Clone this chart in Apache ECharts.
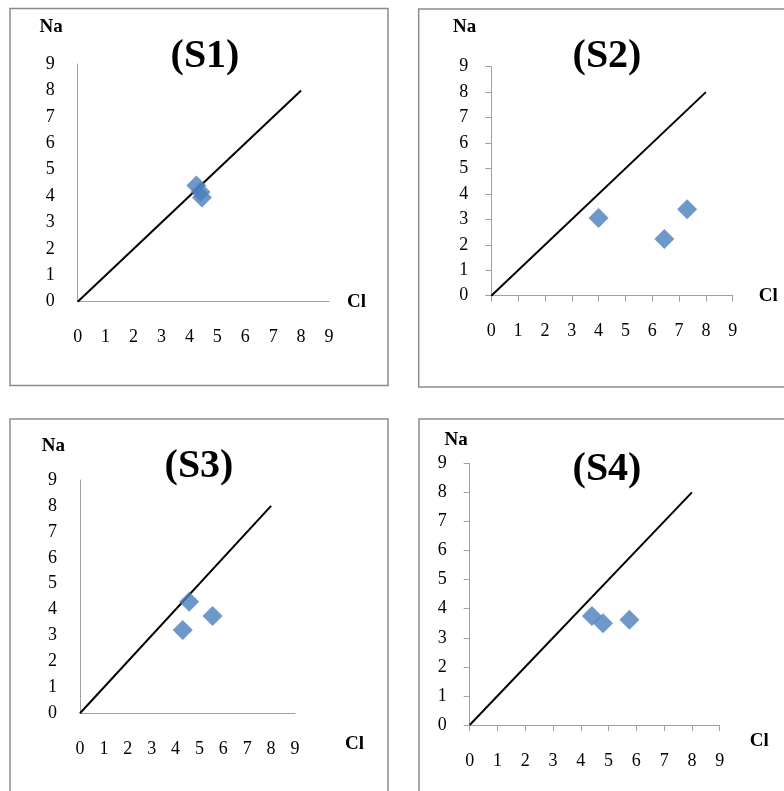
<!DOCTYPE html>
<html>
<head>
<meta charset="utf-8">
<script src="https://cdn.jsdelivr.net/npm/echarts@6/dist/echarts.min.js"></script>
<style>
html,body{margin:0;padding:0;background:#fff;}
#chart{width:784px;height:791px;}
</style>
</head>
<body>
<div id="chart"></div>
<script>
// ---- data ----
const panelTitles = ['(S1)', '(S2)', '(S3)', '(S4)'];
const xName = 'Cl';
const yName = 'Na';
const axisMin = 0;
const axisMax = 9;
const axisStep = 1;
const s1Cl = [4.25, 4.4, 4.45];
const s1Na = [4.4, 4.15, 3.95];
const s2Cl = [4.0, 6.45, 7.3];
const s2Na = [3.05, 2.23, 3.4];
const s3Cl = [4.57, 5.55, 4.3];
const s3Na = [4.3, 3.75, 3.21];
const s4Cl = [4.4, 4.8, 5.75];
const s4Na = [3.75, 3.5, 3.62];
const lineCl = [0, 8];
const lineNa = [0, 8];

const clSets = [s1Cl, s2Cl, s3Cl, s4Cl];
const naSets = [s1Na, s2Na, s3Na, s4Na];

// ---- layout (styling only) ----
const grids = [
  {left: 77.7, top: 64, width: 251.3, height: 237.7},
  {left: 491.3, top: 66.7, width: 241.4, height: 229},
  {left: 80, top: 480, width: 215, height: 233.3},
  {left: 469.7, top: 463.3, width: 250, height: 261.7}
];
const hasTicks = [false, true, false, true];
const titlePos = [[205, 57], [607, 57], [199, 467], [607, 470]];
const yNameCfg = [
  {gap: 27, padR: 15},
  {gap: 30, padR: 15},
  {gap: 24, padR: 15},
  {gap: 14, padR: 2}
];
const xNameCfg = [
  {gap: 18, va: 'middle', padT: 0},
  {gap: 26, va: 'middle', padT: 0},
  {gap: 50, va: 'top', padT: 21},
  {gap: 30, va: 'top', padT: 7}
];
const borders = [
  {x: 10, y: 8.5, width: 378, height: 377},
  {x: 418.7, y: 9, width: 380, height: 378},
  {x: 10, y: 419, width: 378, height: 400},
  {x: 419, y: 419, width: 380, height: 400}
];

const FONT = "'Liberation Serif', 'Times New Roman', serif";
const axisColor = '#a0a0a0';

const xAxes = [], yAxes = [], series = [], titles = [];
for (let i = 0; i < 4; i++) {
  xAxes.push({
    type: 'value', gridIndex: i, min: axisMin, max: axisMax, interval: axisStep,
    splitLine: {show: false},
    axisLine: {show: true, lineStyle: {color: axisColor, width: 1}},
    axisTick: {show: hasTicks[i], length: 6, lineStyle: {color: axisColor}},
    axisLabel: {color: '#000', fontFamily: FONT, fontSize: 18, margin: 27},
    name: xName, nameLocation: 'end', nameGap: xNameCfg[i].gap,
    nameTextStyle: {fontFamily: FONT, fontWeight: 'bold', fontSize: 19, color: '#000',
      align: 'left', verticalAlign: xNameCfg[i].va, padding: [xNameCfg[i].padT, 0, 0, 0]}
  });
  yAxes.push({
    type: 'value', gridIndex: i, min: axisMin, max: axisMax, interval: axisStep,
    splitLine: {show: false},
    axisLine: {show: true, lineStyle: {color: axisColor, width: 1}},
    axisTick: {show: hasTicks[i], length: 6, lineStyle: {color: axisColor}},
    axisLabel: {color: '#000', fontFamily: FONT, fontSize: 18, margin: 23},
    name: yName, nameLocation: 'end', nameGap: yNameCfg[i].gap,
    nameTextStyle: {fontFamily: FONT, fontWeight: 'bold', fontSize: 19, color: '#000',
      align: 'right', verticalAlign: 'bottom', padding: [0, yNameCfg[i].padR, 0, 0]}
  });
  series.push({
    type: 'line', xAxisIndex: i, yAxisIndex: i,
    data: lineCl.map((c, k) => [c, lineNa[k]]),
    showSymbol: false, symbol: 'none',
    lineStyle: {color: '#000', width: 2}, silent: true, z: 2
  });
  series.push({
    type: 'scatter', xAxisIndex: i, yAxisIndex: i,
    data: clSets[i].map((c, k) => [c, naSets[i][k]]),
    symbol: 'diamond', symbolSize: 20,
    itemStyle: {color: '#4a7ebb'}, z: 3
  });
  titles.push({
    text: panelTitles[i], left: titlePos[i][0], top: titlePos[i][1],
    textAlign: 'center', textVerticalAlign: 'middle', padding: 0,
    textStyle: {fontFamily: FONT, fontWeight: 'bold', fontSize: 40, color: '#000'}
  });
}

const chart = echarts.init(document.getElementById('chart'), null, {renderer: 'canvas'});
chart.setOption({
  animation: false,
  backgroundColor: '#fff',
  title: titles,
  grid: grids,
  xAxis: xAxes,
  yAxis: yAxes,
  series: series,
  graphic: borders.map(b => ({
    type: 'rect', shape: b, silent: true,
    style: {fill: 'none', stroke: '#8c8c8c', lineWidth: 1.5}, z: 0
  }))
});
</script>
</body>
</html>
